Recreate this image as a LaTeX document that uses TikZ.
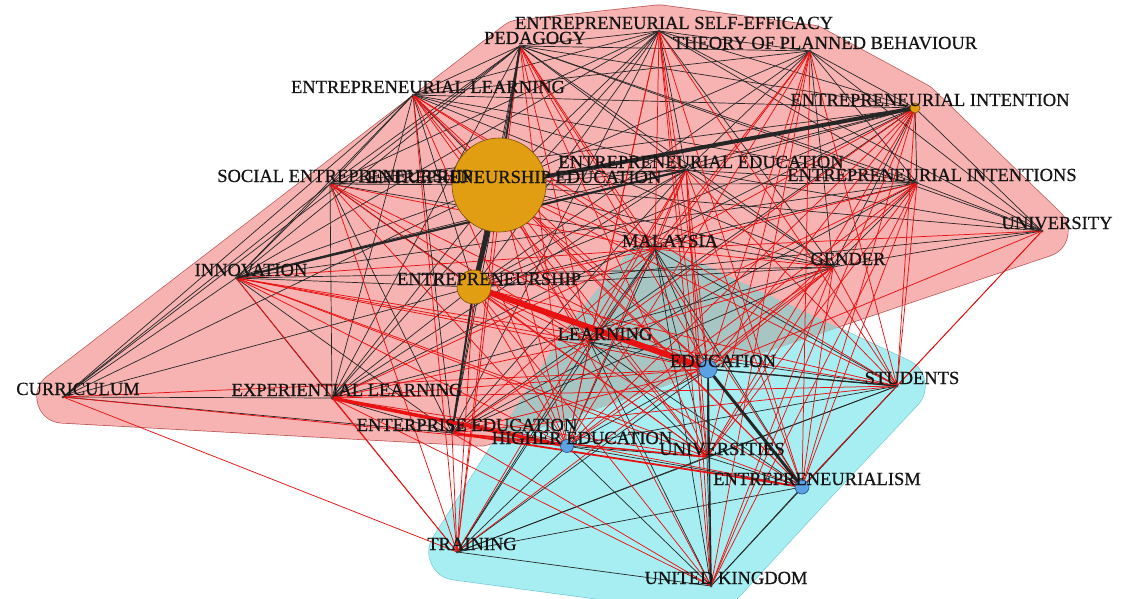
\documentclass[tikz,border=0pt]{standalone}
\usepackage{fontspec}
\setmainfont{Liberation Serif}
\newfontfamily\lblfont[FakeBold=0.7]{Liberation Serif}
\usetikzlibrary{calc}
\definecolor{pinkfill}{RGB}{247,178,178}
\definecolor{pinkline}{RGB}{185,85,85}
\definecolor{cyanfill}{RGB}{162,238,242}
\definecolor{cyanline}{RGB}{110,205,210}
\definecolor{overlaptint}{RGB}{166,197,195}
\definecolor{edgered}{RGB}{232,18,18}
\definecolor{orangenode}{RGB}{226,158,18}
\definecolor{orangeborder}{RGB}{120,80,10}
\definecolor{bluenode}{RGB}{90,162,228}
\definecolor{blueborder}{RGB}{40,80,130}
\begin{document}
\begin{tikzpicture}[x=1pt,y=-1pt,
  blk/.style={draw=black!85, line width=0.7pt},
  redge/.style={draw=edgered, line width=0.75pt},
  lbl/.style={anchor=base, inner sep=0pt, font=\lblfont\fontsize{18.5}{20}\selectfont, text=black!92},
  onode/.style={circle, fill=orangenode, draw=orangeborder, line width=0.6pt, inner sep=0pt},
  bnode/.style={circle, fill=bluenode, draw=blueborder, line width=0.6pt, inner sep=0pt},
  dotnode/.style={circle, fill=black!75, inner sep=0pt, minimum size=3pt}]
\useasboundingbox (0,0) rectangle (1121,599);
% node positions
\coordinate (SE) at (659,31);
\coordinate (PED) at (520,46);
\coordinate (TPB) at (810,51);
\coordinate (EL) at (413,95);
\coordinate (EI) at (915,108);
\coordinate (EE) at (499,185);
\coordinate (SOC) at (330,184);
\coordinate (ENTED) at (686,170);
\coordinate (EIS) at (917,183);
\coordinate (UNI) at (1042,231);
\coordinate (MAL) at (655,249);
\coordinate (GEN) at (833,267);
\coordinate (INN) at (236,278);
\coordinate (ENT) at (474,287);
\coordinate (LRN) at (590,342);
\coordinate (EDU) at (708,369);
\coordinate (STU) at (897,386);
\coordinate (CUR) at (63,397);
\coordinate (EXL) at (332,398);
\coordinate (ENTP) at (452,433);
\coordinate (HE) at (567,446);
\coordinate (UNIS) at (707,457);
\coordinate (ENTISM) at (802,487);
\coordinate (TRN) at (457,552);
\coordinate (UK) at (711,586);
\coordinate (pinkBR) at (480,420);
\coordinate (cyanTop) at (650,270);
% cyan cluster hull (outline + fill)
\draw[cyanline, line width=57pt, line join=round] (cyanTop) -- (STU) -- (ENTISM) -- (UK) -- (TRN) -- (LRN) -- cycle;
\draw[cyanfill, fill=cyanfill, line width=55.6pt, line join=round] (cyanTop) -- (STU) -- (ENTISM) -- (UK) -- (TRN) -- (LRN) -- cycle;
% pink cluster hull
\draw[pinkline, line width=53pt, line join=round] (CUR) -- (PED) -- (SE) -- (TPB) -- (EI) -- (UNI) -- (pinkBR) -- cycle;
\draw[pinkfill, fill=pinkfill, line width=51.6pt, line join=round] (CUR) -- (PED) -- (SE) -- (TPB) -- (EI) -- (UNI) -- (pinkBR) -- cycle;
% overlap of the two hulls
\begin{scope}[blend mode=darken]
\draw[cyanfill, fill=cyanfill, line width=55.6pt, line join=round] (cyanTop) -- (STU) -- (ENTISM) -- (UK) -- (TRN) -- (LRN) -- cycle;
\end{scope}
\begin{scope}[blend mode=lighten]
\draw[overlaptint, fill=overlaptint, line width=55.6pt, line join=round] (cyanTop) -- (STU) -- (ENTISM) -- (UK) -- (TRN) -- (LRN) -- cycle;
\end{scope}
% black edges inside the pink cluster
\foreach \a/\b in {SE/PED,SE/TPB,SE/EL,SE/EI,SE/EE,SE/SOC,SE/ENTED,SE/EIS,SE/UNI,SE/GEN,SE/INN,SE/ENT,SE/EXL,SE/ENTP,
 PED/TPB,PED/EL,PED/EI,PED/EE,PED/SOC,PED/ENTED,PED/EIS,PED/UNI,PED/GEN,PED/INN,PED/ENT,PED/CUR,PED/EXL,PED/ENTP,
 TPB/EL,TPB/EI,TPB/EE,TPB/ENTED,TPB/EIS,TPB/UNI,TPB/GEN,TPB/ENT,
 EL/EI,EL/EE,EL/SOC,EL/ENTED,EL/EIS,EL/GEN,EL/INN,EL/ENT,EL/CUR,EL/EXL,EL/ENTP,
 EI/EE,EI/SOC,EI/ENTED,EI/EIS,EI/UNI,EI/GEN,EI/INN,EI/ENT,EI/EXL,EI/ENTP,
 EE/SOC,EE/ENTED,EE/EIS,EE/UNI,EE/GEN,EE/INN,EE/CUR,EE/EXL,EE/ENTP,
 SOC/ENTED,SOC/GEN,SOC/INN,SOC/ENT,SOC/CUR,SOC/EXL,SOC/ENTP,
 ENTED/EIS,ENTED/UNI,ENTED/GEN,ENTED/ENT,ENTED/EXL,ENTED/ENTP,
 EIS/UNI,EIS/GEN,EIS/INN,EIS/ENT,EIS/ENTP,
 UNI/GEN,UNI/ENT,GEN/INN,GEN/ENT,GEN/EXL,GEN/ENTP,
 INN/ENT,INN/CUR,INN/EXL,INN/ENTP,ENT/CUR,ENT/EXL,CUR/EXL,CUR/ENTP,EXL/ENTP}
 \draw[blk] (\a) -- (\b);
% black edges inside the cyan cluster
\foreach \a/\b in {MAL/LRN,MAL/EDU,MAL/STU,MAL/HE,MAL/UNIS,MAL/ENTISM,MAL/TRN,MAL/UK,
 LRN/EDU,LRN/STU,LRN/HE,LRN/UNIS,LRN/ENTISM,LRN/TRN,LRN/UK,
 EDU/STU,EDU/HE,EDU/UNIS,EDU/TRN,
 STU/HE,STU/UNIS,STU/ENTISM,STU/TRN,STU/UK,
 HE/UNIS,HE/ENTISM,HE/TRN,HE/UK,
 UNIS/ENTISM,UNIS/TRN,UNIS/UK,ENTISM/TRN,ENTISM/UK,TRN/UK}
 \draw[blk] (\a) -- (\b);
% red edges between the clusters
\foreach \a/\b in {SE/MAL,SE/LRN,SE/EDU,SE/STU,SE/HE,SE/UNIS,SE/ENTISM,SE/UK,
 PED/MAL,PED/LRN,PED/EDU,PED/HE,PED/UNIS,PED/ENTISM,PED/TRN,
 TPB/MAL,TPB/LRN,TPB/EDU,TPB/STU,TPB/HE,TPB/UNIS,TPB/ENTISM,TPB/UK,
 EL/MAL,EL/LRN,EL/EDU,EL/STU,EL/HE,EL/UNIS,EL/ENTISM,EL/TRN,
 EI/MAL,EI/LRN,EI/EDU,EI/STU,EI/HE,EI/UNIS,EI/ENTISM,EI/UK,
 EE/MAL,EE/LRN,EE/EDU,EE/STU,EE/HE,EE/UNIS,EE/ENTISM,EE/TRN,EE/UK,
 SOC/MAL,SOC/LRN,SOC/EDU,SOC/HE,SOC/UNIS,SOC/TRN,
 ENTED/MAL,ENTED/LRN,ENTED/EDU,ENTED/STU,ENTED/HE,ENTED/UNIS,ENTED/ENTISM,ENTED/TRN,ENTED/UK,
 EIS/MAL,EIS/LRN,EIS/EDU,EIS/STU,EIS/HE,EIS/UNIS,EIS/ENTISM,EIS/UK,
 UNI/MAL,UNI/EDU,UNI/STU,UNI/ENTISM,
 GEN/MAL,GEN/LRN,GEN/EDU,GEN/STU,GEN/HE,GEN/UNIS,GEN/ENTISM,GEN/TRN,GEN/UK,
 INN/MAL,INN/LRN,INN/EDU,INN/STU,INN/HE,INN/UNIS,INN/ENTISM,INN/TRN,
 ENT/MAL,ENT/LRN,ENT/STU,ENT/HE,ENT/UNIS,ENT/ENTISM,ENT/TRN,ENT/UK,
 CUR/EDU,CUR/HE,CUR/TRN,
 EXL/MAL,EXL/LRN,EXL/EDU,EXL/STU,EXL/UNIS,EXL/ENTISM,EXL/TRN,EXL/UK,
 ENTP/MAL,ENTP/LRN,ENTP/EDU,ENTP/STU,ENTP/HE,ENTP/TRN,ENTP/UK}
 \draw[redge] (\a) -- (\b);
% strong links
\draw[blk, line width=5pt] (EE) -- (ENT);
\draw[blk, line width=4pt] (EE) -- (EI);
\draw[blk, line width=2pt] (EE) -- (PED);
\draw[blk, line width=2.2pt] (INN) -- (ENTED);
\draw[blk, line width=2pt] (ENT) -- (ENTP);
\draw[blk, line width=3pt] (EDU) -- (ENTISM);
\draw[blk, line width=1.6pt] (EDU) -- (UK);
\draw[blk, line width=1.3pt] (EDU) -- (STU);
\draw[redge, line width=6pt] (ENT) -- (EDU);
\draw[redge, line width=3.5pt] (EXL) -- (HE);
\draw[redge, line width=1.8pt] (ENTP) -- (ENTISM);
\draw[redge, line width=1.5pt] (ENTP) -- (UNIS);
% node marks
\node[onode, minimum size=94pt] (EE-c) at (EE) {};
\node[onode, minimum size=34pt] (ENT-c) at (ENT) {};
\node[onode, minimum size=10pt] (EI-c) at (EI) {};
\node[bnode, minimum size=18pt] (EDU-c) at (EDU) {};
\node[bnode, minimum size=13pt] (HE-c) at (HE) {};
\node[bnode, minimum size=14pt] (ENTISM-c) at (ENTISM) {};
\foreach \n in {SE,PED,TPB,EL,SOC,ENTED,EIS,UNI,MAL,GEN,INN,LRN,STU,CUR,EXL,ENTP,UNIS,TRN,UK}
 \node[dotnode] (\n-c) at (\n) {};
% labels
\node[lbl] (SE-l) at ($(SE)+(15,-2)$) {ENTREPRENEURIAL SELF-EFFICACY};
\node[lbl] (PED-l) at ($(PED)+(15,-2)$) {PEDAGOGY};
\node[lbl] (TPB-l) at ($(TPB)+(15,-2)$) {THEORY OF PLANNED BEHAVIOUR};
\node[lbl] (EL-l) at ($(EL)+(15,-2)$) {ENTREPRENEURIAL LEARNING};
\node[lbl] (EI-l) at ($(EI)+(15,-2)$) {ENTREPRENEURIAL INTENTION};
\node[lbl] (SOC-l) at ($(SOC)+(15,-2)$) {SOCIAL ENTREPRENEURSHIP};
\node[lbl] (EE-l) at ($(EE)+(15,-2)$) {ENTREPRENEURSHIP EDUCATION};
\node[lbl] (ENTED-l) at ($(ENTED)+(15,-2)$) {ENTREPRENEURIAL EDUCATION};
\node[lbl] (EIS-l) at ($(EIS)+(15,-2)$) {ENTREPRENEURIAL INTENTIONS};
\node[lbl] (UNI-l) at ($(UNI)+(15,-2)$) {UNIVERSITY};
\node[lbl] (MAL-l) at ($(MAL)+(15,-2)$) {MALAYSIA};
\node[lbl] (GEN-l) at ($(GEN)+(15,-2)$) {GENDER};
\node[lbl] (INN-l) at ($(INN)+(15,-2)$) {INNOVATION};
\node[lbl] (ENT-l) at ($(ENT)+(15,-2)$) {ENTREPRENEURSHIP};
\node[lbl] (LRN-l) at ($(LRN)+(15,-2)$) {LEARNING};
\node[lbl] (EDU-l) at ($(EDU)+(15,-2)$) {EDUCATION};
\node[lbl] (STU-l) at ($(STU)+(15,-2)$) {STUDENTS};
\node[lbl] (CUR-l) at ($(CUR)+(15,-2)$) {CURRICULUM};
\node[lbl] (EXL-l) at ($(EXL)+(15,-2)$) {EXPERIENTIAL LEARNING};
\node[lbl] (ENTP-l) at ($(ENTP)+(15,-2)$) {ENTERPRISE EDUCATION};
\node[lbl] (HE-l) at ($(HE)+(15,-2)$) {HIGHER EDUCATION};
\node[lbl] (UNIS-l) at ($(UNIS)+(15,-2)$) {UNIVERSITIES};
\node[lbl] (ENTISM-l) at ($(ENTISM)+(15,-2)$) {ENTREPRENEURIALISM};
\node[lbl] (TRN-l) at ($(TRN)+(15,-2)$) {TRAINING};
\node[lbl] (UK-l) at ($(UK)+(15,-2)$) {UNITED KINGDOM};
\end{tikzpicture}
\end{document}
